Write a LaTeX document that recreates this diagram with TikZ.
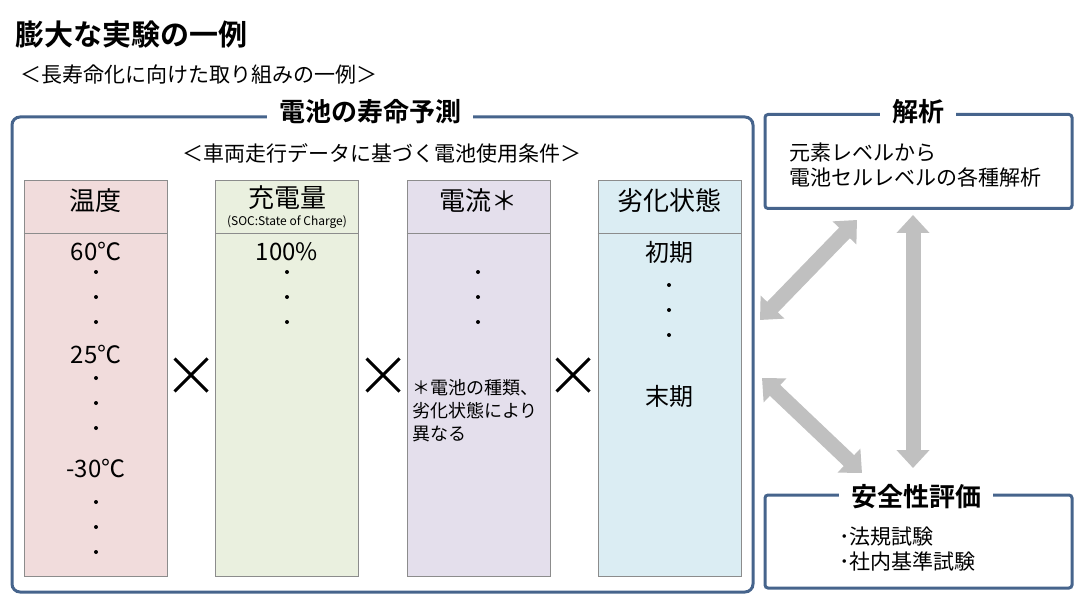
\documentclass[tikz,border=0pt]{standalone}
\usepackage{fontspec}
\setmainfont{Noto Sans CJK JP}[BoldFont={Noto Sans CJK JP Bold}]
\usetikzlibrary{arrows.meta,shapes.misc}

\definecolor{frameblue}{HTML}{46648C}
\definecolor{pinkc}{HTML}{F1DCDC}
\definecolor{greenc}{HTML}{EAF0DF}
\definecolor{purplec}{HTML}{E4DFEC}
\definecolor{bluec}{HTML}{DBEDF3}
\definecolor{arrowgray}{HTML}{C0C0C0}
\definecolor{colline}{HTML}{8C8C8C}

\begin{document}
\begin{tikzpicture}[x=1pt,y=-1pt,
    frame/.style={draw=frameblue, line width=3pt},
    ftitle/.style={fill=white, inner xsep=12pt, inner ysep=2pt, font=\fontsize{26}{30}\selectfont\bfseries},
    col/.style={draw=colline, line width=1pt, minimum width=143pt, minimum height=395pt, inner sep=0pt},
    head/.style={font=\fontsize{26}{30}\selectfont, inner sep=0pt},
    val/.style={font=\fontsize{24}{28}\selectfont, inner sep=0pt},
    body/.style={font=\fontsize{21}{25}\selectfont, inner sep=0pt, align=left},
    times/.style={draw, cross out, line width=3pt, minimum size=30pt, inner sep=0pt},
    bigarrow/.style={draw=arrowgray, line width=15pt, {Triangle[length=18pt,width=32pt]}-{Triangle[length=18pt,width=32pt]}}]
    \fill[white] (0,0) rectangle (1080,607);
    \useasboundingbox (0,0) rectangle (1080,607);

    \node[anchor=west, inner sep=0pt, font=\fontsize{29}{33}\selectfont\bfseries] (title) at (15,35) {膨大な実験の一例};
    \node[anchor=west, inner sep=0pt, font=\fontsize{21}{25}\selectfont] (sub) at (20,75) {＜長寿命化に向けた取り組みの一例＞};

    % main frame
    \node[frame, rounded corners=8pt, minimum width=741pt, minimum height=475pt] (life) at (382.5,354.5) {};
    \node[ftitle] (lifet) at (370,112) {電池の寿命予測};
    \node[body] (cond) at (382,153) {＜車両走行データに基づく電池使用条件＞};

    \foreach \n/\x/\c in {temp/95.5/pinkc, soc/287/greenc, curr/478.5/purplec, deg/669.5/bluec}{
        \node[col, fill=\c] (\n) at (\x,378.5) {};
        \draw[colline, line width=1pt] (\n.west |- 0,234) -- (\n.east |- 0,234);
    }

    \node[head] (temph) at (95.5,201) {温度};
    \node[head] (soch) at (287,198) {充電量};
    \node[inner sep=0pt, font=\fontsize{12}{14}\selectfont] (socn) at (287,222) {(SOC:State of Charge)};
    \node[head] (currh) at (478.5,201) {電流＊};
    \node[head] (degh) at (669.5,201) {劣化状態};

    \node[val] (t60) at (96,252) {60℃};
    \node[val] (t25) at (96,354) {25℃};
    \node[val] (tm30) at (96,468) {-30℃};
    \node[val] (s100) at (287,252) {100\%};
    \node[val] (dini) at (669.5,252) {初期};
    \node[val] (dend) at (669.5,396) {末期};
    \node[inner sep=0pt, align=left, anchor=west, font=\fontsize{18}{23}\selectfont] (cnote) at (412,411) {＊電池の種類、\\劣化状態により\\異なる};

    \foreach \x/\y in {96/272, 96/297, 96/322, 96/378, 96/403, 96/428, 96/502, 96/527, 96/552,
                       287/272, 287/297, 287/322, 478/272, 478/297, 478/322, 669/285, 669/310, 669/335}
        \fill (\x,\y) circle (2pt);

    \node[times] (x1) at (191,375) {};
    \node[times] (x2) at (383,375) {};
    \node[times] (x3) at (573,375) {};

    % right side
    \node[frame, rounded corners=3pt, minimum width=307pt, minimum height=94pt] (ana) at (918.5,161.5) {};
    \node[ftitle] (anat) at (918,112) {解析};
    \node[body, anchor=west] (anatext) at (789,165.5) {元素レベルから\\電池セルレベルの各種解析};

    \node[frame, rounded corners=3pt, minimum width=307pt, minimum height=93pt] (safe) at (918.5,541.5) {};
    \node[ftitle] (safet) at (916,497) {安全性評価};
    \node[body, anchor=west] (safetext) at (839,549) {･法規試験\\･社内基準試験};

    \coordinate (d1a) at (760,320);
    \coordinate (d1b) at (857,220);
    \coordinate (v1a) at (913,215);
    \coordinate (v1b) at (913,468);
    \coordinate (d2a) at (762,378);
    \coordinate (d2b) at (862,473);
    \draw[bigarrow] (d1a) -- (d1b);
    \draw[bigarrow] (v1a) -- (v1b);
    \draw[bigarrow] (d2a) -- (d2b);
\end{tikzpicture}
\end{document}
